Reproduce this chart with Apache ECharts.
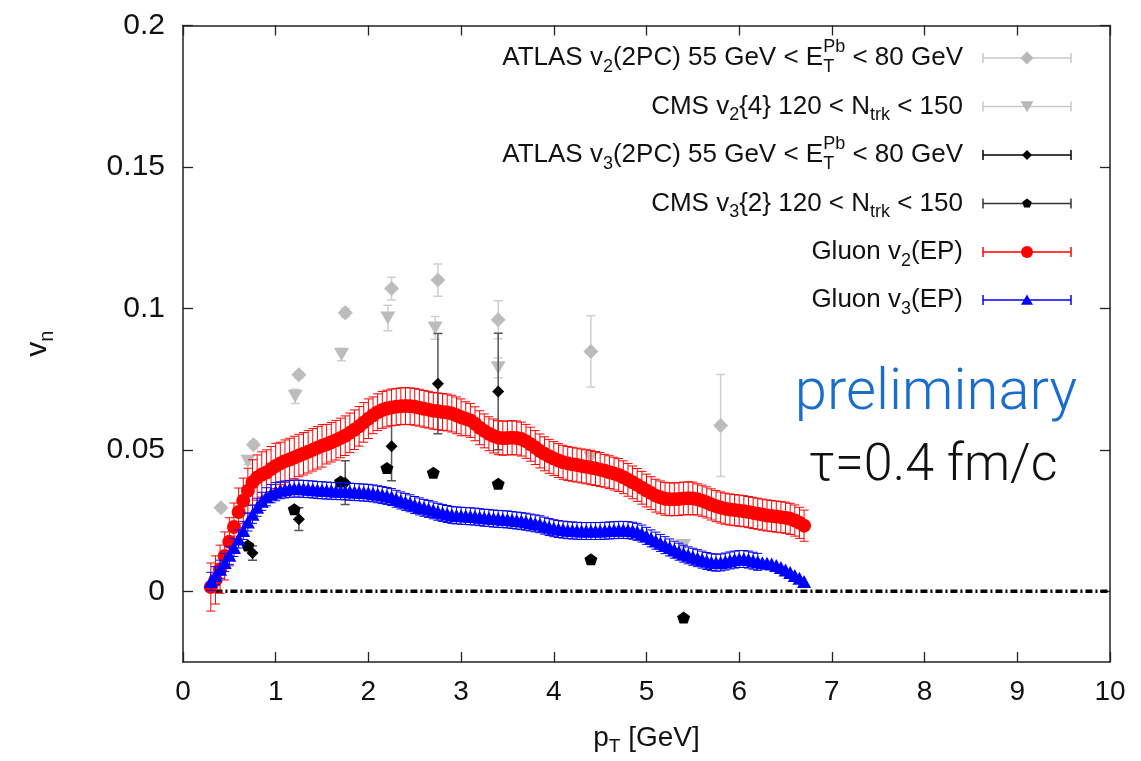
<!DOCTYPE html>
<html><head><meta charset="utf-8">
<script src="https://cdn.jsdelivr.net/npm/echarts@6/dist/echarts.min.js"></script>
<style>html,body{margin:0;padding:0;background:#fff}#c{width:1141px;height:761px}</style>
</head><body><div id="c"></div>
<script>
// ---------------- data ----------------
const xTicks = [0,1,2,3,4,5,6,7,8,9,10];
const yTicks = [0, 0.05, 0.1, 0.15, 0.2];

const atlasV2Pt  = [0.41, 0.76, 1.25, 1.75, 2.25, 2.75, 3.40, 4.40, 5.80];
const atlasV2    = [0.0295, 0.0518, 0.0765, 0.0985, 0.1070, 0.1100, 0.0960, 0.0848, 0.0586];
const atlasV2Err = [0.0010, 0.0012, 0.0012, 0.0015, 0.0040, 0.0057, 0.0067, 0.0126, 0.0180];

const cmsV2Pt  = [0.70, 1.21, 1.71, 2.21, 2.72, 3.40, 4.40, 5.40];
const cmsV2    = [0.0460, 0.0689, 0.0837, 0.0966, 0.0931, 0.0790, 0.0472, 0.0162];
const cmsV2Err = [0.0012, 0.0025, 0.0022, 0.0045, 0.0040, 0.0035, 0.0030, 0.0020];

const atlasV3Pt  = [0.75, 1.25, 1.75, 2.25, 2.75, 3.40];
const atlasV3    = [0.0135, 0.0255, 0.0384, 0.0513, 0.0734, 0.0706];
const atlasV3Err = [0.0025, 0.0040, 0.0077, 0.0122, 0.0177, 0.0206];

const cmsV3Pt  = [0.70, 1.20, 1.70, 2.20, 2.70, 3.40, 4.40, 5.40];
const cmsV3    = [0.0162, 0.0290, 0.0388, 0.0436, 0.0419, 0.0380, 0.0113, -0.0093];
const cmsV3Err = [0.0008, 0.0008, 0.0008, 0.0008, 0.0008, 0.0008, 0.0008, 0.0008];

const gluonPt = [0.30,0.35,0.40,0.45,0.50,0.55,0.60,0.65,0.70,0.75,0.80,0.85,0.90,0.95,1.00,1.05,1.10,1.15,1.20,1.25,
1.30,1.35,1.40,1.45,1.50,1.55,1.60,1.65,1.70,1.75,1.80,1.85,1.90,1.95,2.00,2.05,2.10,2.15,2.20,2.25,
2.30,2.35,2.40,2.45,2.50,2.55,2.60,2.65,2.70,2.75,2.80,2.85,2.90,2.95,3.00,3.05,3.10,3.15,3.20,3.25,
3.30,3.35,3.40,3.45,3.50,3.55,3.60,3.65,3.70,3.75,3.80,3.85,3.90,3.95,4.00,4.05,4.10,4.15,4.20,4.25,
4.30,4.35,4.40,4.45,4.50,4.55,4.60,4.65,4.70,4.75,4.80,4.85,4.90,4.95,5.00,5.05,5.10,5.15,5.20,5.25,
5.30,5.35,5.40,5.45,5.50,5.55,5.60,5.65,5.70,5.75,5.80,5.85,5.90,5.95,6.00,6.05,6.10,6.15,6.20,6.25,
6.30,6.35,6.40,6.45,6.50,6.55,6.60,6.65,6.70];

const gluonV2 = [0.0015,0.0040,0.0078,0.0125,0.0175,0.0227,0.0280,0.0320,0.0355,0.0385,
0.0402,0.0413,0.0420,0.0432,0.0443,0.0452,0.0460,0.0466,0.0473,0.0480,
0.0486,0.0493,0.0500,0.0507,0.0514,0.0520,0.0527,0.0534,0.0542,0.0550,
0.0560,0.0571,0.0583,0.0597,0.0610,0.0622,0.0633,0.0641,0.0646,0.0650,
0.0652,0.0654,0.0655,0.0654,0.0652,0.0649,0.0645,0.0642,0.0638,0.0636,
0.0634,0.0632,0.0628,0.0622,0.0615,0.0610,0.0604,0.0592,0.0578,0.0567,
0.0557,0.0549,0.0543,0.0541,0.0542,0.0543,0.0542,0.0538,0.0530,0.0520,
0.0508,0.0496,0.0486,0.0477,0.0469,0.0462,0.0456,0.0452,0.0449,0.0446,
0.0443,0.0440,0.0437,0.0434,0.0430,0.0426,0.0421,0.0416,0.0411,0.0403,
0.0394,0.0385,0.0376,0.0366,0.0356,0.0347,0.0338,0.0332,0.0327,0.0325,
0.0325,0.0326,0.0328,0.0329,0.0328,0.0325,0.0320,0.0314,0.0307,0.0301,
0.0296,0.0292,0.0289,0.0287,0.0285,0.0283,0.0280,0.0277,0.0274,0.0271,
0.0268,0.0266,0.0264,0.0262,0.0260,0.0256,0.0250,0.0242,0.0232];

const gluonV2Err = [0.0085,0.0085,0.0085,0.0085,0.0085,0.0085,0.0085,
0.0080,0.0080,0.0080,0.0080,0.0080,0.0080,0.0080,0.0080,
0.0075,0.0075,0.0075,0.0075,0.0075,0.0075,0.0075,0.0075,0.0075,0.0075,
0.0070,0.0070,0.0070,0.0070,0.0070,0.0070,0.0070,0.0070,0.0070,0.0070,
0.0065,0.0065,0.0065,0.0065,0.0065,0.0065,0.0065,0.0065,0.0065,0.0065,
0.0065,0.0065,0.0065,0.0065,0.0065,0.0065,0.0065,0.0065,0.0065,0.0065,
0.0060,0.0060,0.0060,0.0060,0.0060,0.0060,0.0060,0.0060,0.0060,0.0060,
0.0060,0.0060,0.0060,0.0060,0.0060,0.0060,0.0060,0.0060,0.0060,0.0060,
0.0060,0.0060,0.0060,0.0060,0.0060,0.0060,0.0060,0.0060,0.0060,0.0060,
0.0058,0.0058,0.0058,0.0058,0.0058,0.0058,0.0058,0.0058,0.0058,0.0058,
0.0058,0.0058,0.0058,0.0058,0.0058,0.0058,0.0058,0.0058,0.0058,0.0058,
0.0055,0.0055,0.0055,0.0055,0.0055,0.0055,0.0055,0.0055,0.0055,0.0055,
0.0055,0.0055,0.0055,0.0055,0.0055,0.0055,0.0055,0.0055,0.0055,0.0055,
0.0055,0.0055,0.0055,0.0055];

const gluonV3 = [0.0035,0.0055,0.0078,0.0102,0.0127,0.0155,0.0185,0.0215,0.0245,0.0272,
0.0297,0.0318,0.0334,0.0345,0.0352,0.0357,0.0360,0.0362,0.0363,0.0363,
0.0362,0.0361,0.0360,0.0358,0.0357,0.0356,0.0355,0.0354,0.0354,0.0353,
0.0352,0.0351,0.0350,0.0349,0.0348,0.0346,0.0343,0.0340,0.0337,0.0333,
0.0327,0.0321,0.0316,0.0311,0.0305,0.0300,0.0295,0.0291,0.0286,0.0281,
0.0277,0.0273,0.0270,0.0268,0.0267,0.0266,0.0265,0.0264,0.0262,0.0260,
0.0259,0.0257,0.0256,0.0255,0.0254,0.0252,0.0250,0.0248,0.0246,0.0243,
0.0240,0.0237,0.0232,0.0227,0.0223,0.0220,0.0218,0.0216,0.0215,0.0214,
0.0213,0.0213,0.0213,0.0213,0.0213,0.0214,0.0215,0.0216,0.0217,0.0217,
0.0216,0.0214,0.0210,0.0204,0.0196,0.0187,0.0179,0.0171,0.0163,0.0155,
0.0147,0.0140,0.0133,0.0127,0.0122,0.0117,0.0112,0.0107,0.0103,0.0101,
0.0102,0.0105,0.0109,0.0112,0.0114,0.0114,0.0112,0.0108,0.0104,0.0101,
0.0099,0.0096,0.0091,0.0084,0.0075,0.0066,0.0056,0.0046,0.0035];

const gluonV3Err = [0.0032,0.0032,0.0032,0.0032,0.0032,0.0032,0.0032,0.0032,0.0032,0.0032,
0.0032,0.0032,0.0032,0.0032,0.0032,
0.0030,0.0030,0.0030,0.0030,0.0030,0.0030,0.0030,0.0030,0.0030,0.0030,
0.0030,0.0030,0.0030,0.0030,0.0030,0.0030,0.0030,0.0030,0.0030,0.0030,
0.0030,0.0030,0.0030,0.0030,0.0030,0.0030,0.0030,0.0030,0.0030,0.0030,
0.0030,0.0030,0.0030,0.0030,0.0030,0.0030,0.0030,0.0030,0.0030,0.0030,
0.0030,0.0030,0.0030,0.0030,0.0030,0.0030,0.0030,0.0030,0.0030,0.0030,
0.0030,0.0030,0.0030,0.0030,0.0030,0.0030,0.0030,0.0030,0.0030,0.0030,
0.0030,0.0030,0.0030,0.0030,0.0030,0.0030,0.0030,0.0030,0.0030,0.0030,
0.0030,0.0030,0.0030,0.0030,0.0030,0.0030,0.0030,0.0030,0.0030,0.0030,
0.0030,0.0030,0.0030,0.0030,0.0030,0.0030,0.0030,0.0030,0.0030,0.0030,
0.0030,0.0030,0.0030,0.0030,0.0030,0.0030,0.0030,0.0030,0.0030,0.0030,
0.0030,0.0030,0.0030,0.0030];

const zeroLineX = [0.35, 10];
const zeroLineY = [0, 0];

// ---------------- chart ----------------
const FONT = '"Liberation Sans", Arial, Helvetica, sans-serif';
const chart = echarts.init(document.getElementById('c'), null, {renderer: 'canvas'});

function errSeries(name, xs, ys, es, color, cap, lw, z) {
  return {
    type: 'custom', name: name, z: z, silent: true, clip: true, animation: false,
    data: xs.map((x, i) => [x, ys[i], es[i]]),
    renderItem: function (params, api) {
      const x = api.value(0), y = api.value(1), e = api.value(2);
      const p1 = api.coord([x, y + e]), p2 = api.coord([x, y - e]);
      const st = {stroke: color, lineWidth: lw};
      return {type: 'group', children: [
        {type: 'line', shape: {x1: p1[0], y1: p1[1], x2: p2[0], y2: p2[1]}, style: st},
        {type: 'line', shape: {x1: p1[0] - cap, y1: p1[1], x2: p1[0] + cap, y2: p1[1]}, style: st},
        {type: 'line', shape: {x1: p2[0] - cap, y1: p2[1], x2: p2[0] + cap, y2: p2[1]}, style: st}
      ]};
    }
  };
}
function markSeries(name, xs, ys, symbol, size, color, z, rotate) {
  return {
    type: 'scatter', name: name, z: z, silent: true, animation: false,
    symbol: symbol, symbolSize: size, symbolRotate: rotate || 0,
    itemStyle: {color: color, opacity: 1},
    data: xs.map((x, i) => [x, ys[i]])
  };
}
const PENT = 'path://M0,-1 L0.951,-0.309 L0.588,0.809 L-0.588,0.809 L-0.951,-0.309 Z';

const axisLineStyle = {color: '#222', width: 1.5};
const tickStyle = {color: '#222', width: 1.3};

// legend (drawn with graphic elements)
const mctx = document.createElement('canvas').getContext('2d');
function tw(t, size) { mctx.font = size + 'px ' + FONT; return mctx.measureText(t).width; }
const LMAIN = 26, LSUB = 18;
const legendRows = [
  {y: 58,  pieces: [['ATLAS v',0],['2',1],['(2PC) 55 GeV < E',0],['T','Pb',2],[' < 80 GeV',0]],
   line: '#c8c8c8', mk: 'diamond', mc: '#b8b8b8', ms: 13},
  {y: 106.5, pieces: [['CMS v',0],['2',1],['{4} 120 < N',0],['trk',1],[' < 150',0]],
   line: '#c8c8c8', mk: 'tri-down', mc: '#b8b8b8', ms: 13},
  {y: 155, pieces: [['ATLAS v',0],['3',1],['(2PC) 55 GeV < E',0],['T','Pb',2],[' < 80 GeV',0]],
   line: '#000', mk: 'diamond', mc: '#000', ms: 10},
  {y: 203.5, pieces: [['CMS v',0],['3',1],['{2} 120 < N',0],['trk',1],[' < 150',0]],
   line: '#333', mk: 'pent', mc: '#000', ms: 10},
  {y: 252, pieces: [['Gluon v',0],['2',1],['(EP)',0]],
   line: '#ff0000', mk: 'circle', mc: '#ff0000', ms: 12},
  {y: 300, pieces: [['Gluon v',0],['3',1],['(EP)',0]],
   line: '#0000ff', mk: 'tri-up', mc: '#0000ff', ms: 12}
];
const graphics = [];
const TEXT_RIGHT = 963, LX1 = 983, LX2 = 1071, LMX = 1027;
legendRows.forEach(row => {
  const widths = row.pieces.map(p => p[2] === 2 ? Math.max(tw(p[0], LSUB), tw(p[1], LSUB)) : tw(p[0], p[1] ? LSUB : LMAIN));
  let x = TEXT_RIGHT - widths.reduce((a, b) => a + b, 0);
  row.pieces.forEach((p, i) => {
    const base = {fill: '#111', fontFamily: FONT, align: 'left', verticalAlign: 'middle'};
    if (p[2] === 2) {
      graphics.push({type: 'text', x: x, y: row.y + 9, style: Object.assign({}, base, {text: p[0], fontSize: LSUB})});
      graphics.push({type: 'text', x: x, y: row.y - 11, style: Object.assign({}, base, {text: p[1], fontSize: LSUB})});
    } else if (p[1] === 1) {
      graphics.push({type: 'text', x: x, y: row.y + 9, style: Object.assign({}, base, {text: p[0], fontSize: LSUB})});
    } else {
      graphics.push({type: 'text', x: x, y: row.y, style: Object.assign({}, base, {text: p[0], fontSize: LMAIN})});
    }
    x += widths[i];
  });
  const ls = {stroke: row.line, lineWidth: 1.5};
  graphics.push({type: 'line', shape: {x1: LX1, y1: row.y, x2: LX2, y2: row.y}, style: ls});
  graphics.push({type: 'line', shape: {x1: LX1, y1: row.y - 5, x2: LX1, y2: row.y + 5}, style: ls});
  graphics.push({type: 'line', shape: {x1: LX2, y1: row.y - 5, x2: LX2, y2: row.y + 5}, style: ls});
  const h = row.ms / 2;
  if (row.mk === 'circle') {
    graphics.push({type: 'circle', shape: {cx: LMX, cy: row.y, r: h}, style: {fill: row.mc}});
  } else if (row.mk === 'diamond') {
    graphics.push({type: 'polygon', shape: {points: [[LMX, row.y - h], [LMX + h, row.y], [LMX, row.y + h], [LMX - h, row.y]]}, style: {fill: row.mc}});
  } else if (row.mk === 'tri-down') {
    graphics.push({type: 'polygon', shape: {points: [[LMX - h, row.y - h * 0.8], [LMX + h, row.y - h * 0.8], [LMX, row.y + h * 0.9]]}, style: {fill: row.mc}});
  } else if (row.mk === 'tri-up') {
    graphics.push({type: 'polygon', shape: {points: [[LMX - h, row.y + h * 0.8], [LMX + h, row.y + h * 0.8], [LMX, row.y - h * 0.9]]}, style: {fill: row.mc}});
  } else if (row.mk === 'pent') {
    const pts = [];
    for (let k = 0; k < 5; k++) { const a = -Math.PI / 2 + k * 2 * Math.PI / 5; pts.push([LMX + h * Math.cos(a), row.y + h * Math.sin(a)]); }
    graphics.push({type: 'polygon', shape: {points: pts}, style: {fill: row.mc}});
  }
});
graphics.push({type: 'text', x: 936, y: 394, z: 100,
  style: {text: 'preliminary', fontSize: 58, fontFamily: 'Roboto, ' + FONT, fontWeight: 300, fill: '#1a6ecb', align: 'center', verticalAlign: 'middle'}});
graphics.push({type: 'text', x: 933, y: 467, z: 100,
  style: {text: 'τ=0.4 fm/c', fontSize: 52, fontFamily: 'Roboto, ' + FONT, fontWeight: 300, fill: '#111', align: 'center', verticalAlign: 'middle'}});

const option = {
  backgroundColor: '#fff',
  animation: false,
  grid: {left: 183, right: 31, top: 25.5, bottom: 98, containLabel: false},
  xAxis: [
    {type: 'value', min: 0, max: 10, interval: 1, position: 'bottom',
     axisLine: {show: true, onZero: false, lineStyle: axisLineStyle},
     axisTick: {show: true, inside: true, length: 10, lineStyle: tickStyle},
     axisLabel: {fontSize: 28, fontFamily: FONT, color: '#111', margin: 16},
     splitLine: {show: false},
     name: 'p{s|T} [GeV]', nameLocation: 'middle', nameGap: 58,
     nameTextStyle: {fontSize: 28, fontFamily: FONT, color: '#111', lineHeight: 36,
       rich: {s: {fontSize: 19, fontFamily: FONT, color: '#111', lineHeight: 20, verticalAlign: 'bottom'}}}},
    {type: 'value', min: 0, max: 10, interval: 1, position: 'top',
     axisLine: {show: true, onZero: false, lineStyle: axisLineStyle},
     axisTick: {show: true, inside: true, length: 10, lineStyle: tickStyle},
     axisLabel: {show: false}, splitLine: {show: false}}
  ],
  yAxis: [
    {type: 'value', min: -0.025, max: 0.2, position: 'left',
     axisLine: {show: true, onZero: false, lineStyle: axisLineStyle},
     axisTick: {show: true, inside: true, length: 10, customValues: yTicks, lineStyle: tickStyle},
     axisLabel: {customValues: yTicks, fontSize: 30, fontFamily: FONT, color: '#111', margin: 18},
     splitLine: {show: false},
     name: 'v{s|n}', nameLocation: 'middle', nameGap: 126, nameRotate: 90,
     nameTextStyle: {fontSize: 30, fontFamily: FONT, color: '#111', lineHeight: 38,
       rich: {s: {fontSize: 20, fontFamily: FONT, color: '#111', lineHeight: 20, verticalAlign: 'bottom'}}}},
    {type: 'value', min: -0.025, max: 0.2, position: 'right',
     axisLine: {show: true, onZero: false, lineStyle: axisLineStyle},
     axisTick: {show: true, inside: true, length: 10, customValues: yTicks, lineStyle: tickStyle},
     axisLabel: {show: false, customValues: yTicks}, splitLine: {show: false}}
  ],
  graphic: graphics,
  series: [
    {type: 'line', name: 'zero', z: 1, silent: true, animation: false, symbol: 'none',
     data: zeroLineX.map((x, i) => [x, zeroLineY[i]]),
     lineStyle: {color: '#000', width: 3.5, type: [7, 3, 2, 3]}},
    errSeries('ATLAS v2 err', atlasV2Pt, atlasV2, atlasV2Err, '#cfcfcf', 4.5, 1.5, 2),
    markSeries('ATLAS v2', atlasV2Pt, atlasV2, 'diamond', [15, 15], '#bcbcbc', 3),
    errSeries('CMS v2 err', cmsV2Pt, cmsV2, cmsV2Err, '#cfcfcf', 4.5, 1.5, 4),
    markSeries('CMS v2', cmsV2Pt, cmsV2, 'triangle', [15, 13], '#bcbcbc', 5, 180),
    errSeries('ATLAS v3 err', atlasV3Pt, atlasV3, atlasV3Err, '#555', 4.5, 1.5, 6),
    markSeries('ATLAS v3', atlasV3Pt, atlasV3, 'diamond', [12, 12], '#000', 7),
    errSeries('CMS v3 err', cmsV3Pt, cmsV3, cmsV3Err, '#333', 4, 1.2, 8),
    markSeries('CMS v3', cmsV3Pt, cmsV3, PENT, [13, 12], '#000', 9),
    errSeries('Gluon v2 err', gluonPt, gluonV2, gluonV2Err, '#ff0000', 4.5, 1, 10),
    markSeries('Gluon v2', gluonPt, gluonV2, 'circle', 14, '#ff0000', 11),
    errSeries('Gluon v3 err', gluonPt, gluonV3, gluonV3Err, '#0000ff', 4.5, 1, 12),
    markSeries('Gluon v3', gluonPt, gluonV3, 'triangle', [14, 13], '#0000ff', 13)
  ]
};
chart.setOption(option);
</script>
</body></html>
